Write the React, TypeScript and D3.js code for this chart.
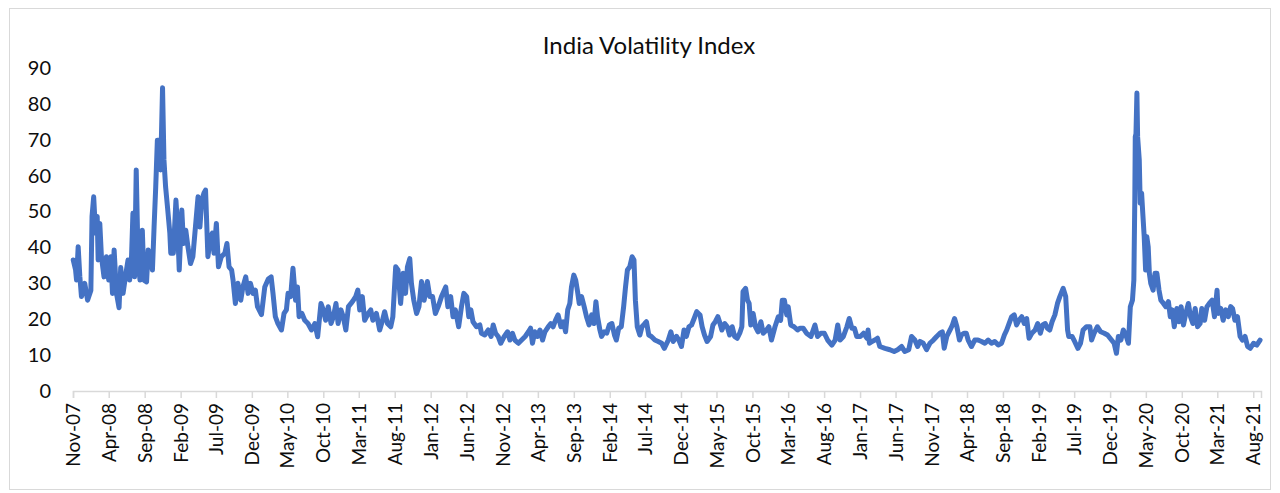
import React, { useRef, useEffect } from 'react'
import * as d3 from 'd3'

const title = 'India Volatility Index'

const xTickLabels = [
  'Nov-07', 'Apr-08', 'Sep-08', 'Feb-09', 'Jul-09', 'Dec-09', 'May-10', 'Oct-10', 'Mar-11',
  'Aug-11', 'Jan-12', 'Jun-12', 'Nov-12', 'Apr-13', 'Sep-13', 'Feb-14', 'Jul-14', 'Dec-14',
  'May-15', 'Oct-15', 'Mar-16', 'Aug-16', 'Jan-17', 'Jun-17', 'Nov-17', 'Apr-18', 'Sep-18',
  'Feb-19', 'Jul-19', 'Dec-19', 'May-20', 'Oct-20', 'Mar-21', 'Aug-21',
]

const yTicks = [0, 10, 20, 30, 40, 50, 60, 70, 80, 90]

// [date, India VIX close]
const vix2007to2009: [string, number][] = [
  ['2007-11-02', 36.5], ['2007-11-12', 33.7], ['2007-11-16', 30.9], ['2007-11-23', 40.2],
  ['2007-11-30', 32], ['2007-12-07', 26.3], ['2007-12-21', 30], ['2008-01-02', 25.3],
  ['2008-01-16', 28], ['2008-01-21', 48.6], ['2008-01-28', 54.1], ['2008-02-05', 44],
  ['2008-02-12', 48.6], ['2008-02-16', 36.5], ['2008-02-23', 46.7], ['2008-03-01', 37.4],
  ['2008-03-12', 31.8], ['2008-03-22', 37.4], ['2008-04-01', 30.9], ['2008-04-10', 37.4],
  ['2008-04-17', 27.2], ['2008-04-24', 39.3], ['2008-05-04', 27.2], ['2008-05-15', 23.2],
  ['2008-05-22', 34.4], ['2008-06-01', 27.2], ['2008-06-11', 31.8], ['2008-06-22', 36.5],
  ['2008-06-29', 30.9], ['2008-07-07', 37.4], ['2008-07-13', 49.5], ['2008-07-20', 31.8],
  ['2008-07-27', 61.6], ['2008-08-04', 36.5], ['2008-08-12', 30.9], ['2008-08-22', 44.8],
  ['2008-08-29', 30.9], ['2008-09-09', 30.4], ['2008-09-16', 39.3], ['2008-09-27', 36.5],
  ['2008-10-04', 33.7], ['2008-10-11', 45.7], ['2008-10-18', 56.9], ['2008-10-25', 69.9],
  ['2008-11-02', 69.9], ['2008-11-08', 61.6], ['2008-11-16', 84.5], ['2008-11-22', 64.4],
  ['2008-11-29', 56.9], ['2008-12-07', 51.3], ['2008-12-17', 44], ['2008-12-21', 38.4],
  ['2009-01-01', 38.4], ['2009-01-12', 53.2], ['2009-01-19', 45.7], ['2009-01-26', 33.7],
  ['2009-02-06', 50.4], ['2009-02-13', 41.1], ['2009-02-23', 44.8], ['2009-03-04', 40.2],
  ['2009-03-15', 35.5], ['2009-03-25', 37.4], ['2009-04-05', 45.7], ['2009-04-16', 54.1],
  ['2009-04-24', 45.7], ['2009-05-02', 53.2], ['2009-05-11', 55.1], ['2009-05-18', 56],
  ['2009-05-28', 37.4], ['2009-06-08', 43], ['2009-06-16', 44], ['2009-06-23', 38.4],
  ['2009-07-03', 46.7], ['2009-07-12', 34.6], ['2009-07-24', 37.4], ['2009-08-08', 38.4],
  ['2009-08-17', 41.1], ['2009-08-26', 34.6], ['2009-09-06', 33.7], ['2009-09-12', 30.9],
  ['2009-09-22', 24.4], ['2009-10-03', 30], ['2009-10-15', 25.3], ['2009-10-24', 29],
  ['2009-11-05', 31.8], ['2009-11-15', 27.2], ['2009-11-25', 30], ['2009-12-06', 27.2],
  ['2009-12-16', 28.1], ['2009-12-25', 23.5],
]

const vix2010to2012: [string, number][] = [
  ['2010-01-11', 21.3], ['2010-01-25', 29], ['2010-02-09', 31.2], ['2010-02-21', 31.8],
  ['2010-03-01', 27.2], ['2010-03-11', 20.7], ['2010-03-22', 18.8], ['2010-04-06', 17],
  ['2010-04-17', 21.6], ['2010-04-27', 22.6], ['2010-05-04', 27.2], ['2010-05-15', 26.3],
  ['2010-05-25', 34.2], ['2010-06-05', 25.3], ['2010-06-13', 29], ['2010-06-20', 20.7],
  ['2010-07-02', 21.6], ['2010-07-14', 19.7], ['2010-07-28', 18.8], ['2010-08-12', 17],
  ['2010-08-26', 18.8], ['2010-09-07', 15.1], ['2010-09-21', 24.4], ['2010-10-01', 22.6],
  ['2010-10-11', 19.7], ['2010-10-22', 23.5], ['2010-11-03', 18.8], ['2010-11-13', 20.7],
  ['2010-11-24', 24.4], ['2010-12-03', 18.8], ['2010-12-15', 22.6], ['2010-12-25', 20.7],
  ['2011-01-05', 17], ['2011-01-16', 23.5], ['2011-01-27', 24.4], ['2011-02-06', 25.3],
  ['2011-02-16', 26.3], ['2011-02-25', 28.1], ['2011-03-05', 22.6], ['2011-03-16', 26.3],
  ['2011-03-26', 19.7], ['2011-04-10', 21.6], ['2011-04-21', 22.6], ['2011-04-30', 19.7],
  ['2011-05-15', 21.6], ['2011-05-29', 17], ['2011-06-10', 19.7], ['2011-06-19', 22.1],
  ['2011-07-01', 18.8], ['2011-07-15', 17.9], ['2011-07-24', 20.7], ['2011-08-05', 34.6],
  ['2011-08-15', 33.7], ['2011-08-26', 24.4], ['2011-09-06', 32.8], ['2011-09-16', 27.2],
  ['2011-09-24', 34.6], ['2011-10-04', 36.9], ['2011-10-11', 30], ['2011-10-21', 25.3],
  ['2011-11-02', 21.6], ['2011-11-12', 23.5], ['2011-11-23', 30.5], ['2011-12-04', 25.3],
  ['2011-12-18', 30.5], ['2011-12-28', 26.3], ['2012-01-09', 26.3], ['2012-01-21', 21.6],
  ['2012-02-02', 23.5], ['2012-02-16', 26.3], ['2012-03-05', 29], ['2012-03-14', 23.5],
  ['2012-03-26', 26.3], ['2012-04-05', 20.7], ['2012-04-15', 22.6], ['2012-04-29', 17.9],
  ['2012-05-11', 23.5], ['2012-05-21', 27.2], ['2012-06-02', 26.3], ['2012-06-11', 20.7],
  ['2012-06-20', 22.6], ['2012-06-29', 19.3], ['2012-07-14', 17.9], ['2012-07-28', 18.4],
  ['2012-08-04', 16.1], ['2012-08-18', 15.6], ['2012-09-02', 17], ['2012-09-14', 15.2],
  ['2012-09-23', 18.4], ['2012-10-03', 16.1], ['2012-10-14', 15.2], ['2012-10-25', 13.3],
  ['2012-11-09', 15.2], ['2012-11-23', 16.5], ['2012-12-03', 14.2], ['2012-12-14', 16.1],
  ['2012-12-24', 14.2],
]

const vix2013to2015: [string, number][] = [
  ['2013-01-08', 13.3], ['2013-01-22', 14.2], ['2013-02-06', 15.2], ['2013-02-20', 16.5],
  ['2013-03-01', 17.5], ['2013-03-09', 13.3], ['2013-03-19', 16.5], ['2013-03-30', 15.2],
  ['2013-04-10', 17], ['2013-04-21', 14.2], ['2013-05-01', 16.5], ['2013-05-15', 17.9],
  ['2013-05-26', 18.8], ['2013-06-05', 17.9], ['2013-06-15', 19.7], ['2013-06-26', 21.2],
  ['2013-07-08', 17.9], ['2013-07-18', 19.3], ['2013-07-28', 16.5], ['2013-08-06', 22.6],
  ['2013-08-15', 24.4], ['2013-08-22', 29], ['2013-09-01', 32.3], ['2013-09-09', 30.9],
  ['2013-09-17', 27.7], ['2013-09-24', 24.4], ['2013-10-04', 26.3], ['2013-10-15', 23.5],
  ['2013-10-25', 20.7], ['2013-11-05', 18.4], ['2013-11-16', 21.2], ['2013-11-26', 18.8],
  ['2013-12-04', 24.9], ['2013-12-11', 20.7], ['2013-12-21', 17], ['2013-12-28', 15.2],
  ['2014-01-09', 16.5], ['2014-01-19', 16.1], ['2014-01-30', 18.4], ['2014-02-10', 18.8],
  ['2014-02-21', 15.6], ['2014-03-01', 14.2], ['2014-03-11', 17.5], ['2014-03-22', 17.9],
  ['2014-04-01', 23.5], ['2014-04-09', 29], ['2014-04-17', 33.7], ['2014-04-27', 34.6],
  ['2014-05-07', 37.4], ['2014-05-15', 36.5], ['2014-05-21', 25.3], ['2014-05-29', 17.9],
  ['2014-06-09', 15.6], ['2014-06-18', 17.9], ['2014-06-30', 18.8], ['2014-07-07', 19.3],
  ['2014-07-17', 15.6], ['2014-07-28', 15.2], ['2014-08-12', 14.2], ['2014-08-26', 13.8],
  ['2014-09-10', 13.3], ['2014-09-21', 11.9], ['2014-10-08', 14.2], ['2014-10-19', 16.5],
  ['2014-10-29', 13.8], ['2014-11-12', 15.2], ['2014-11-22', 14.2], ['2014-12-03', 12.4],
  ['2014-12-14', 17], ['2014-12-24', 15.2], ['2015-01-04', 17.9], ['2015-01-15', 18.4],
  ['2015-01-26', 20.2], ['2015-02-06', 22.1], ['2015-02-20', 21.2], ['2015-03-01', 17.9],
  ['2015-03-11', 15.6], ['2015-03-22', 13.8], ['2015-04-06', 15.2], ['2015-04-16', 18.4],
  ['2015-04-26', 19.3], ['2015-05-07', 20.7], ['2015-05-14', 19.3], ['2015-05-24', 17],
  ['2015-06-05', 18.8], ['2015-06-16', 17.9], ['2015-06-26', 15.6], ['2015-07-07', 17.9],
  ['2015-07-17', 15.2], ['2015-07-28', 14.7], ['2015-08-08', 16.1], ['2015-08-17', 17.9],
  ['2015-08-22', 27.7], ['2015-09-02', 28.6], ['2015-09-10', 25.3], ['2015-09-17', 24.4],
  ['2015-09-24', 18.4], ['2015-10-04', 21.6], ['2015-10-14', 17.9], ['2015-10-25', 16.5],
  ['2015-11-06', 19.3], ['2015-11-16', 16.1], ['2015-11-30', 17], ['2015-12-10', 17.9],
  ['2015-12-21', 14.2],
]

const vix2016to2018: [string, number][] = [
  ['2016-01-05', 17.9], ['2016-01-19', 20.7], ['2016-01-29', 19.7], ['2016-02-05', 25.3],
  ['2016-02-14', 25.3], ['2016-02-24', 21.2], ['2016-03-01', 23.5], ['2016-03-12', 18.4],
  ['2016-03-26', 17.9], ['2016-04-10', 17], ['2016-04-20', 17.5], ['2016-05-04', 17.5],
  ['2016-05-18', 16.1], ['2016-06-06', 15.2], ['2016-06-23', 18.4], ['2016-07-04', 15.2],
  ['2016-07-18', 16.1], ['2016-08-02', 16.1], ['2016-08-16', 14.2], ['2016-09-03', 12.8],
  ['2016-09-17', 14.2], ['2016-09-28', 18.4], ['2016-10-08', 14.2], ['2016-10-22', 15.2],
  ['2016-11-06', 17.9], ['2016-11-16', 20.2], ['2016-11-27', 17.5], ['2016-12-08', 17.5],
  ['2016-12-18', 15.2], ['2017-01-02', 15.2], ['2017-01-16', 16.1], ['2017-01-30', 14.7],
  ['2017-02-04', 17], ['2017-02-10', 13.3], ['2017-02-21', 13.8], ['2017-03-05', 14.2],
  ['2017-03-16', 14.7], ['2017-03-26', 12.4], ['2017-04-17', 11.9], ['2017-05-08', 11.5],
  ['2017-05-26', 11], ['2017-06-10', 11.5], ['2017-06-27', 12.4], ['2017-07-10', 11],
  ['2017-07-27', 11.5], ['2017-08-08', 15.2], ['2017-08-22', 14.2], ['2017-09-03', 12.4],
  ['2017-09-13', 13.8], ['2017-09-27', 13.3], ['2017-10-11', 11.5], ['2017-10-25', 13.3],
  ['2017-11-09', 14.2], ['2017-11-23', 15.2], ['2017-12-07', 16.1], ['2017-12-17', 16.5],
  ['2017-12-25', 11.9], ['2018-01-05', 15.2], ['2018-01-19', 17], ['2018-01-29', 18.4],
  ['2018-02-07', 20.2], ['2018-02-17', 17.9], ['2018-02-28', 14.2], ['2018-03-08', 15.6],
  ['2018-03-19', 16.1], ['2018-03-29', 16.1], ['2018-04-06', 14.2], ['2018-04-20', 12.4],
  ['2018-05-04', 14.2], ['2018-05-18', 14.2], ['2018-06-02', 13.8], ['2018-06-16', 13.3],
  ['2018-06-30', 14.2], ['2018-07-14', 13.3], ['2018-07-28', 13.8], ['2018-08-12', 12.8],
  ['2018-08-26', 13.3], ['2018-09-07', 15.6], ['2018-09-17', 17], ['2018-09-27', 18.8],
  ['2018-10-08', 20.7], ['2018-10-19', 21.2], ['2018-10-29', 18.4], ['2018-11-08', 19.7],
  ['2018-11-20', 20.7], ['2018-12-01', 18.8], ['2018-12-11', 20.2], ['2018-12-21', 14.7],
]

const vix2019to2021: [string, number][] = [
  ['2019-01-02', 16.1], ['2019-01-16', 17], ['2019-01-27', 18.8], ['2019-02-07', 16.1],
  ['2019-02-17', 18.4], ['2019-02-28', 18.8], ['2019-03-09', 17.5], ['2019-03-19', 17],
  ['2019-03-29', 19.3], ['2019-04-10', 21.2], ['2019-04-21', 24.4], ['2019-05-01', 26.3],
  ['2019-05-15', 28.6], ['2019-05-26', 26.3], ['2019-06-03', 17], ['2019-06-08', 15.2],
  ['2019-06-22', 15.2], ['2019-07-03', 13.8], ['2019-07-17', 11.9], ['2019-07-28', 13.3],
  ['2019-08-08', 17], ['2019-08-22', 17.9], ['2019-09-06', 17.9], ['2019-09-13', 14.2],
  ['2019-09-24', 16.1], ['2019-10-08', 17.9], ['2019-10-22', 16.5], ['2019-11-06', 16.1],
  ['2019-11-20', 15.6], ['2019-12-07', 14.2], ['2019-12-18', 13.3], ['2019-12-28', 10.5],
  ['2020-01-05', 15.2], ['2020-01-16', 14.2], ['2020-01-26', 17], ['2020-02-06', 15.6],
  ['2020-02-17', 13.3], ['2020-02-25', 23.5], ['2020-03-05', 25.3], ['2020-03-11', 30.9],
  ['2020-03-15', 53.2], ['2020-03-17', 70.8], ['2020-03-20', 71.7], ['2020-03-24', 83],
  ['2020-03-27', 70.8], ['2020-04-03', 64.4], ['2020-04-07', 52.3], ['2020-04-13', 55.1],
  ['2020-04-18', 49.5], ['2020-04-24', 43], ['2020-04-30', 33.7], ['2020-05-05', 43],
  ['2020-05-11', 40.2], ['2020-05-16', 32.8], ['2020-05-22', 30], ['2020-06-01', 28.1],
  ['2020-06-09', 32.8], ['2020-06-17', 32.8], ['2020-06-26', 28.1], ['2020-07-04', 25.3],
  ['2020-07-15', 24.4], ['2020-07-25', 23.5], ['2020-08-05', 24.9], ['2020-08-13', 20.7],
  ['2020-08-21', 22.6], ['2020-08-30', 17.9], ['2020-09-10', 23], ['2020-09-19', 19.3],
  ['2020-09-28', 23.5], ['2020-10-08', 18.4], ['2020-10-18', 21.6], ['2020-10-29', 24.4],
  ['2020-11-07', 20.7], ['2020-11-17', 18.8], ['2020-11-27', 23], ['2020-12-07', 17.9],
  ['2020-12-18', 18.8], ['2020-12-25', 23], ['2021-01-06', 19.7], ['2021-01-16', 23.5],
  ['2021-01-26', 24.4], ['2021-02-07', 25.3], ['2021-02-17', 20.7], ['2021-02-28', 28.1],
  ['2021-03-05', 21.6], ['2021-03-16', 23], ['2021-03-26', 19.7], ['2021-04-06', 22.6],
  ['2021-04-17', 20.7], ['2021-04-27', 23.5], ['2021-05-05', 23], ['2021-05-15', 19.7],
  ['2021-05-26', 20.7], ['2021-06-06', 15.2], ['2021-06-16', 14.2], ['2021-06-27', 15.2],
  ['2021-07-08', 12.4], ['2021-07-19', 11.9], ['2021-08-02', 13.3], ['2021-08-16', 12.8],
  ['2021-08-30', 14.2],
]

const FONT = 'Lato, Carlito, Calibri, sans-serif'
const TEXT_COLOR = '#0d0d0d'

const renderVixChart = (svg: SVGSVGElement) => {
  const width = 1280
  const height = 493
  const margin = { left: 73, right: 19, top: 68, bottom: 102 }

  const parseDay = d3.timeParse('%Y-%m-%d')
  const parseTick = d3.timeParse('%b-%y')
  const data = [
    ...vix2007to2009,
    ...vix2010to2012,
    ...vix2013to2015,
    ...vix2016to2018,
    ...vix2019to2021,
  ].map(([d, v]) => ({ date: parseDay(d) as Date, value: v }))

  const svgD3 = d3.select(svg).attr('width', width).attr('height', height)
  svgD3.selectAll('*').remove()

  const xScale = d3
    .scaleTime()
    .domain([parseTick('Nov-07') as Date, parseDay('2021-09-03') as Date])
    .range([margin.left, width - margin.right])
  const yScale = d3
    .scaleLinear()
    .domain([0, 90])
    .range([height - margin.bottom, margin.top])

  // chart frame
  svgD3
    .append('rect')
    .attr('x', 9.5)
    .attr('y', 8.5)
    .attr('width', 1261)
    .attr('height', 481)
    .attr('fill', '#fff')
    .attr('stroke', '#d9d9d9')
    .attr('stroke-width', 1)

  svgD3
    .append('text')
    .attr('x', 649)
    .attr('y', 54)
    .attr('text-anchor', 'middle')
    .style('font-family', FONT)
    .style('font-size', '24px')
    .attr('fill', TEXT_COLOR)
    .text(title)

  // y labels only, no axis line
  const yAxis = d3.axisLeft(yScale).tickValues(yTicks).tickSize(0).tickPadding(22)
  const yG = svgD3.append('g').attr('transform', `translate(${margin.left}, 0)`).call(yAxis)
  yG.select('.domain').remove()
  yG.selectAll('text')
    .style('font-family', FONT)
    .style('font-size', '20px')
    .attr('fill', TEXT_COLOR)

  const tickDates = xTickLabels.map((t) => parseTick(t) as Date)
  const xAxis = d3
    .axisBottom(xScale)
    .tickValues(tickDates)
    .tickSize(7)
    .tickFormat((d, i) => xTickLabels[i])
  const xG = svgD3
    .append('g')
    .attr('transform', `translate(0, ${yScale(0)})`)
    .call(xAxis)
  xG.select('.domain').attr('stroke', '#d9d9d9').attr('stroke-width', 1.5)
  xG.selectAll('line').attr('stroke', '#d9d9d9').attr('stroke-width', 1.5)
  xG.selectAll('text')
    .style('font-family', FONT)
    .style('font-size', '19px')
    .attr('fill', TEXT_COLOR)
    .attr('text-anchor', 'end')
    .attr('transform', 'rotate(-90)')
    .attr('x', -12)
    .attr('y', 0)
    .attr('dy', '0.35em')

  const line = d3
    .line<{ date: Date; value: number }>()
    .x((d) => xScale(d.date))
    .y((d) => yScale(d.value))

  svgD3
    .append('path')
    .datum(data)
    .attr('fill', 'none')
    .attr('stroke', '#4472c4')
    .attr('stroke-width', 5)
    .attr('stroke-linejoin', 'round')
    .attr('stroke-linecap', 'round')
    .attr('d', line)
}

export default function App() {
  const svgRef = useRef<SVGSVGElement>(null)

  useEffect(() => {
    if (svgRef.current) renderVixChart(svgRef.current)
  }, [])

  return <svg ref={svgRef} style={{ position: 'absolute', left: 0, top: 0 }} />
}
